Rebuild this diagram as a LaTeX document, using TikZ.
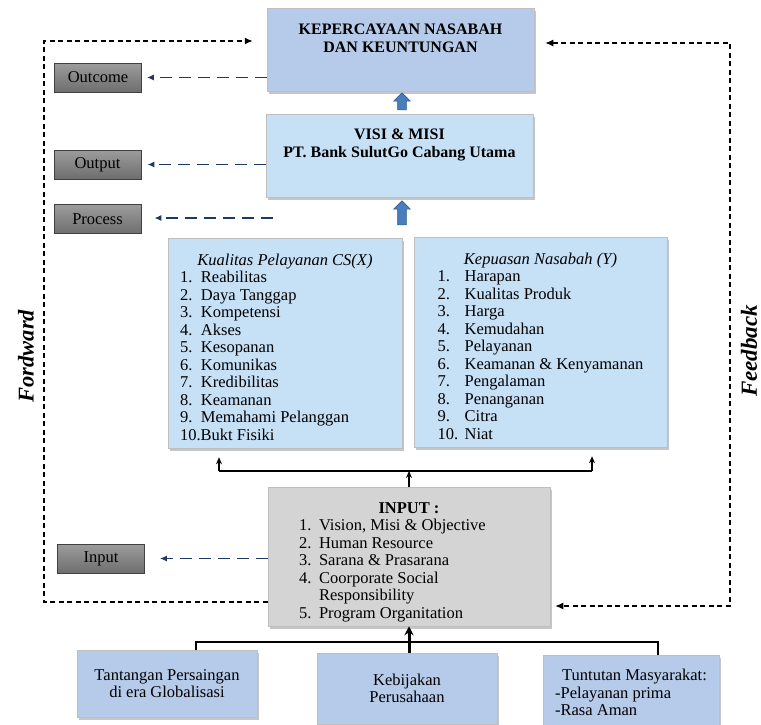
\documentclass[tikz,border=0pt]{standalone}
\usepackage{fontspec}
\setmainfont{Liberation Serif}
\usetikzlibrary{positioning,shapes.arrows,shadows,arrows.meta}
\definecolor{trustblue}{HTML}{B6CAE9}
\definecolor{paleblue}{HTML}{C6E0F6}
\definecolor{inputgray}{HTML}{D4D4D4}
\definecolor{tagtop}{HTML}{9C9C9C}
\definecolor{tagbot}{HTML}{6E6E6E}
\definecolor{navy}{HTML}{1F3864}
\definecolor{arrowblue}{HTML}{4A7EBB}
\definecolor{arrowedge}{HTML}{2E5A8F}
\newcommand{\listfont}{\fontsize{16.5}{17.5}\selectfont}
\newcommand{\headfont}{\fontsize{16}{18}\selectfont\bfseries}

\begin{document}
\begin{tikzpicture}[x=1pt,y=-1pt,
  box/.style={draw=black!25, line width=0.5pt, inner sep=0pt,
    drop shadow={shadow xshift=2pt,shadow yshift=-2.5pt,opacity=0.45}},
  trustbox/.style={box, fill=trustblue},
  palebox/.style={box, fill=paleblue},
  graybox/.style={box, fill=inputgray},
  tagbox/.style={draw=black!75, line width=0.8pt, top color=tagtop, bottom color=tagbot,
    minimum width=87pt, minimum height=29pt, inner sep=0pt, font=\listfont},
  navyarrow/.style={navy, line width=1.3pt, dash pattern=on 12pt off 7pt,
    -{Latex[length=7pt,width=6pt]}},
  loopline/.style={black, line width=1.2pt, dash pattern=on 5pt off 3.5pt},
  bracket/.style={black, line width=1.6pt},
  upblock/.style={single arrow, shape border rotate=90, fill=arrowblue, draw=arrowedge,
    line width=0.6pt, single arrow head extend=4pt, minimum width=16pt, inner sep=0pt}
]
\useasboundingbox (0,0) rectangle (761,724);

% outcome and output boxes
\node[trustbox, minimum width=267pt, minimum height=83pt] (trust) at (400.5,49.5) {};
\node[font=\headfont, align=center] (trusttext) at (400.5,38.5) {KEPERCAYAAN NASABAH\\DAN KEUNTUNGAN};
\node[palebox, minimum width=267pt, minimum height=83pt] (visi) at (399.5,155.5) {};
\node[font=\headfont, align=center] (visitext) at (399.5,145) {VISI \& MISI\\PT. Bank SulutGo Cabang Utama};
\node[upblock, minimum height=17pt] (upperblock) at (402,103.5) {\hspace*{8pt}\rule{0pt}{8pt}};
\node[upblock, minimum height=24pt] (lowerblock) at (402,215) {\hspace*{8pt}\rule{0pt}{8pt}};

% tags on the left
\node[tagbox] (outcometag) at (98,77.5) {Outcome};
\node[tagbox] (outputtag) at (97.5,164.5) {Output};
\node[tagbox] (processtag) at (97.5,219) {Process};
\node[tagbox] (inputtag) at (101,558.5) {Input};

% process: the two variables
\node[palebox, minimum width=234pt, minimum height=210pt, font=\listfont] (kualitas) at (285,343) {%
\begin{tabular}{@{}p{21pt}@{}p{189pt}@{}}
\multicolumn{2}{@{}c@{}}{\rule{0pt}{24.5pt}\itshape Kualitas Pelayanan CS(X)}\\
1. & Reabilitas\\
2. & Daya Tanggap\\
3. & Kompetensi\\
4. & Akses\\
5. & Kesopanan\\
6. & Komunikas\\
7. & Kredibilitas\\
8. & Keamanan\\
9. & Memahami Pelanggan\\
\multicolumn{2}{@{}l@{}}{10.Bukt Fisiki}
\end{tabular}};
\node[palebox, minimum width=253pt, minimum height=210pt, font=\listfont] (kepuasan) at (540.5,342) {%
\begin{tabular}{@{}p{27pt}@{}l@{}}
\multicolumn{2}{@{}c@{}}{\rule{0pt}{24.5pt}\itshape Kepuasan Nasabah (Y)}\\
1. & Harapan\\
2. & Kualitas Produk\\
3. & Harga\\
4. & Kemudahan\\
5. & Pelayanan\\
6. & Keamanan \& Kenyamanan\\
7. & Pengalaman\\
8. & Penanganan\\
9. & Citra\\
10. & Niat
\end{tabular}};

% input
\node[graybox, minimum width=282pt, minimum height=139pt, font=\listfont] (inputbox) at (409,556.5) {%
\begin{tabular}{@{}p{20pt}@{}p{200pt}@{}}
\multicolumn{2}{@{}c@{}}{\rule{0pt}{24pt}\bfseries INPUT :}\\
1. & Vision, Misi \& Objective\\
2. & Human Resource\\
3. & Sarana \& Prasarana\\
4. & Coorporate Social\\
 & Responsibility\\
5. & Program Organitation
\end{tabular}};

% environment boxes
\node[trustbox, minimum width=180pt, minimum height=67pt, align=center, font=\listfont] (tantangan) at (167,683.5) {Tantangan Persaingan\\di era Globalisasi};
\node[trustbox, minimum width=180pt, minimum height=71pt, align=center, font=\listfont] (kebijakan) at (407,688.5) {Kebijakan\\Perusahaan};
\node[trustbox, minimum width=176pt, minimum height=75pt, align=left, font=\listfont] (tuntutan) at (631,692.5) {\hspace*{7pt}Tuntutan Masyarakat:\\-Pelayanan prima\\-Rasa Aman};

% side titles
\node[rotate=90, inner sep=0pt, font=\fontsize{22.5}{27}\selectfont\bfseries\itshape] (fordward) at (26,356) {Fordward};
\node[rotate=90, inner sep=0pt, font=\fontsize{23}{27}\selectfont\bfseries\itshape] (feedback) at (749,351) {Feedback};

% dashed links to the tags
\draw[navyarrow, shorten >=5pt] (trust.west |- outcometag) -- (outcometag.east);
\draw[navyarrow, shorten >=6pt] (visi.west |- outputtag) -- (outputtag.east);
\coordinate (procstart) at (273,218);
\draw[navyarrow, shorten >=13pt] (procstart) -- (processtag.east |- procstart);
\draw[navyarrow, shorten >=15pt] (inputbox.west |- inputtag) -- (inputtag.east);

% forward and feedback loops
\coordinate (fwdtop) at (44,41);
\coordinate (fwdbot) at (44,602);
\draw[loopline, -{Latex[length=8pt,width=7pt]}, shorten >=14pt] (inputbox.west |- fwdbot) -- (fwdbot) -- (fwdtop) -- (trust.west |- fwdtop);
\coordinate (fbtop) at (730,43);
\coordinate (fbbot) at (730,606);
\draw[loopline, {Latex[length=8pt,width=7pt]}-{Latex[length=8pt,width=7pt]}, shorten <=11pt, shorten >=5pt] (trust.east |- fbtop) -- (fbtop) -- (fbbot) -- (inputbox.east |- fbbot);

% input to the variables
\coordinate (splitL) at (219,471);
\coordinate (splitR) at (592,471);
\draw[bracket] (splitL) -- (splitR);
\draw[bracket, -{Stealth[length=7pt,width=6pt]}] (inputbox.north) -- (inputbox.north |- splitL);
\draw[bracket, -{Stealth[length=7pt,width=6pt]}, shorten >=9pt] (splitL) -- (splitL |- kualitas.south);
\draw[bracket, -{Stealth[length=7pt,width=6pt]}, shorten >=9pt] (splitR) -- (splitR |- kepuasan.south);

% environment to input
\coordinate (joinL) at (196,642);
\coordinate (joinR) at (658,642);
\draw[bracket] (joinL |- tantangan.north) -- (joinL) -- (joinR) -- (joinR |- tuntutan.north);
\draw[bracket, line width=3pt, -{Stealth[length=9pt,width=9pt]}] (kebijakan.north -| inputbox.south) -- (inputbox.south);
\end{tikzpicture}
\end{document}
